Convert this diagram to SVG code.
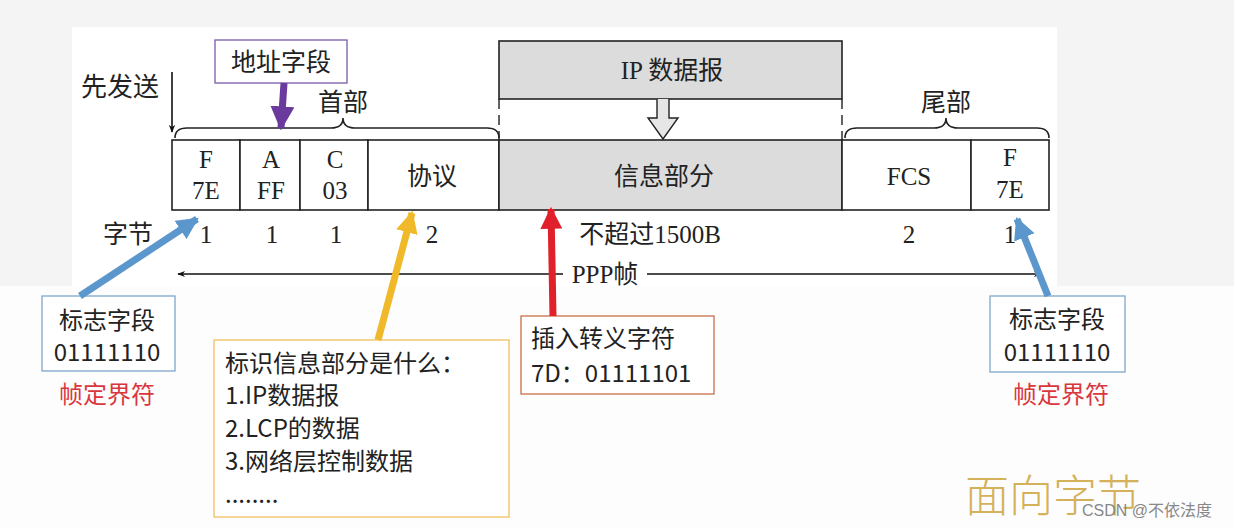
<svg xmlns="http://www.w3.org/2000/svg" width="1234" height="527" viewBox="0 0 1234 527">
<defs>
<style>
.s{font-family:"Liberation Serif","Noto Sans CJK SC",serif;font-size:25px;fill:#222;text-anchor:middle}
.a{font-family:"Noto Sans CJK SC","Liberation Sans",sans-serif;font-size:24px;fill:#222}
.red{fill:#d9363e}
.cell{fill:#fff;stroke:#222;stroke-width:1.6}
.g{fill:#dcdcdc;stroke:#222;stroke-width:1.6}
.br{fill:none;stroke:#222;stroke-width:1.6}
</style>
<marker id="ah" viewBox="0 0 10 10" refX="9" refY="5" markerWidth="8" markerHeight="8" orient="auto-start-reverse" markerUnits="userSpaceOnUse"><path d="M0,1 L10,5 L0,9 L3,5 z" fill="#111"/></marker>
<marker id="ahb" viewBox="0 0 10 10" refX="9" refY="5" markerWidth="22" markerHeight="22" orient="auto" markerUnits="userSpaceOnUse"><path d="M0,0 L10,5 L0,10 z" fill="#5b97cd"/></marker>
<marker id="ahy" viewBox="0 0 10 10" refX="9" refY="5" markerWidth="22" markerHeight="22" orient="auto" markerUnits="userSpaceOnUse"><path d="M0,0 L10,5 L0,10 z" fill="#f0b92a"/></marker>
<marker id="ahr" viewBox="0 0 10 10" refX="9" refY="5" markerWidth="22" markerHeight="22" orient="auto" markerUnits="userSpaceOnUse"><path d="M0,0 L10,5 L0,10 z" fill="#e0202a"/></marker>
<marker id="ahp" viewBox="0 0 10 10" refX="9" refY="5" markerWidth="24" markerHeight="24" orient="auto" markerUnits="userSpaceOnUse"><path d="M0,0 L10,5 L0,10 z" fill="#6a3a9c"/></marker>
</defs>
<rect x="0" y="0" width="1234" height="527" fill="#f4f4f4"/>
<rect x="0" y="286" width="1234" height="241" fill="#fdfdfd"/>
<rect x="72" y="27" width="985" height="259" fill="#fff"/>

<g id="frame">
<rect class="cell" x="172" y="140" width="68" height="70"/>
<rect class="cell" x="240" y="140" width="60" height="70"/>
<rect class="cell" x="300" y="140" width="68" height="70"/>
<rect class="cell" x="368" y="140" width="131" height="70"/>
<rect class="g" x="499" y="140" width="343" height="70"/>
<rect class="cell" x="842" y="140" width="129" height="70"/>
<rect class="cell" x="971" y="140" width="78" height="70"/>
<text class="s" x="206" y="168">F</text><text class="s" x="206" y="199">7E</text>
<text class="s" x="271" y="168">A</text><text class="s" x="271" y="199">FF</text>
<text class="s" x="335" y="168">C</text><text class="s" x="335" y="199">03</text>
<text class="s" x="432" y="185">协议</text>
<text class="s" x="664" y="185">信息部分</text>
<text class="s" x="909" y="185">FCS</text>
<text class="s" x="1010" y="166">F</text><text class="s" x="1010" y="198">7E</text>
</g>

<g id="ip">
<rect class="g" x="499" y="41" width="343" height="58"/>
<text class="s" x="672" y="79">IP 数据报</text>
<path d="M499,99 V140 M842,99 V140" stroke="#222" stroke-width="1.4" stroke-dasharray="10,6" fill="none"/>
<path d="M657,99 V118 H648 L663,139 L678,118 H669 V99" fill="#e6e6e6" stroke="#222" stroke-width="1.4"/>
</g>

<g id="braces">
<path class="br" d="M175,138 Q175,128 187,128 H331 Q343,128 343,118 Q343,128 355,128 H487 Q499,128 499,138"/>
<text class="s" x="343" y="111">首部</text>
<path class="br" d="M845,138 Q845,128 857,128 H934 Q946,128 946,118 Q946,128 958,128 H1037 Q1049,128 1049,138"/>
<text class="s" x="946" y="111">尾部</text>
<text class="s" x="120" y="96" style="font-size:26px">先发送</text>
<line x1="172" y1="72" x2="172" y2="132" stroke="#111" stroke-width="1.6" marker-end="url(#ah)"/>
</g>

<g id="bytes">
<text class="s" x="128" y="243">字节</text>
<text class="s" x="206" y="243">1</text>
<text class="s" x="272" y="243">1</text>
<text class="s" x="336" y="243">1</text>
<text class="s" x="432" y="243">2</text>
<text class="s" x="650" y="243">不超过1500B</text>
<text class="s" x="909" y="243">2</text>
<text class="s" x="1010" y="243">1</text>
</g>

<g id="ppp">
<line x1="563" y1="274" x2="178" y2="274" stroke="#111" stroke-width="1.6" marker-end="url(#ah)"/>
<line x1="647" y1="274" x2="1041" y2="274" stroke="#111" stroke-width="1.6" marker-end="url(#ah)"/>
<text class="s" x="605" y="283">PPP帧</text>
</g>

<g id="addr">
<rect x="215" y="40" width="132" height="43" fill="#fff" stroke="#7a5aa8" stroke-width="1.3"/>
<text class="s" x="281" y="71">地址字段</text>
</g>

<g id="flagL">
<rect x="42" y="296" width="133" height="75" fill="#fff" stroke="#7fa7c9" stroke-width="1.3"/>
<text class="a" x="107" y="329" text-anchor="middle">标志字段</text>
<text class="a" x="107" y="361" text-anchor="middle">01111110</text>
<text class="a red" x="107" y="403" text-anchor="middle">帧定界符</text>
</g>

<g id="flagR">
<rect x="990" y="296" width="135" height="76" fill="#fff" stroke="#7fa7c9" stroke-width="1.3"/>
<text class="a" x="1057" y="328" text-anchor="middle">标志字段</text>
<text class="a" x="1057" y="361" text-anchor="middle">01111110</text>
<text class="a red" x="1061" y="403" text-anchor="middle">帧定界符</text>
</g>

<g id="proto">
<rect x="214" y="340" width="295" height="177" fill="#fff" stroke="#f0c060" stroke-width="1.3"/>
<text class="a" x="225" y="372">标识信息部分是什么：</text>
<text class="a" x="225" y="404">1.IP数据报</text>
<text class="a" x="225" y="437">2.LCP的数据</text>
<text class="a" x="225" y="470">3.网络层控制数据</text>
<text class="a" x="225" y="503">........</text>
</g>

<g id="escape">
<rect x="521" y="316" width="193" height="78" fill="#fff" stroke="#c8704a" stroke-width="1.3"/>
<text class="a" x="531" y="347">插入转义字符</text>
<text class="a" x="531" y="382">7D：01111101</text>
</g>

<g id="connectors">
<line x1="284" y1="83" x2="281" y2="128" stroke="#6a3a9c" stroke-width="7" marker-end="url(#ahp)"/>
<line x1="80" y1="296" x2="197" y2="219" stroke="#5b97cd" stroke-width="7" marker-end="url(#ahb)"/>
<line x1="1048" y1="296" x2="1017" y2="219" stroke="#5b97cd" stroke-width="7" marker-end="url(#ahb)"/>
<line x1="378" y1="340" x2="412" y2="213" stroke="#f0b92a" stroke-width="7" marker-end="url(#ahy)"/>
<line x1="553" y1="316" x2="551" y2="209" stroke="#e0202a" stroke-width="7" marker-end="url(#ahr)"/>
</g>

<text x="965" y="512" style="font-family:'Noto Sans CJK SC',serif;font-size:44px;fill:#d4b15a;font-weight:300">面向字节</text>
<text x="1082" y="516" style="font-family:'Liberation Sans','Noto Sans CJK SC',sans-serif;font-size:16px;fill:#888">CSDN @不依法度</text>
</svg>
